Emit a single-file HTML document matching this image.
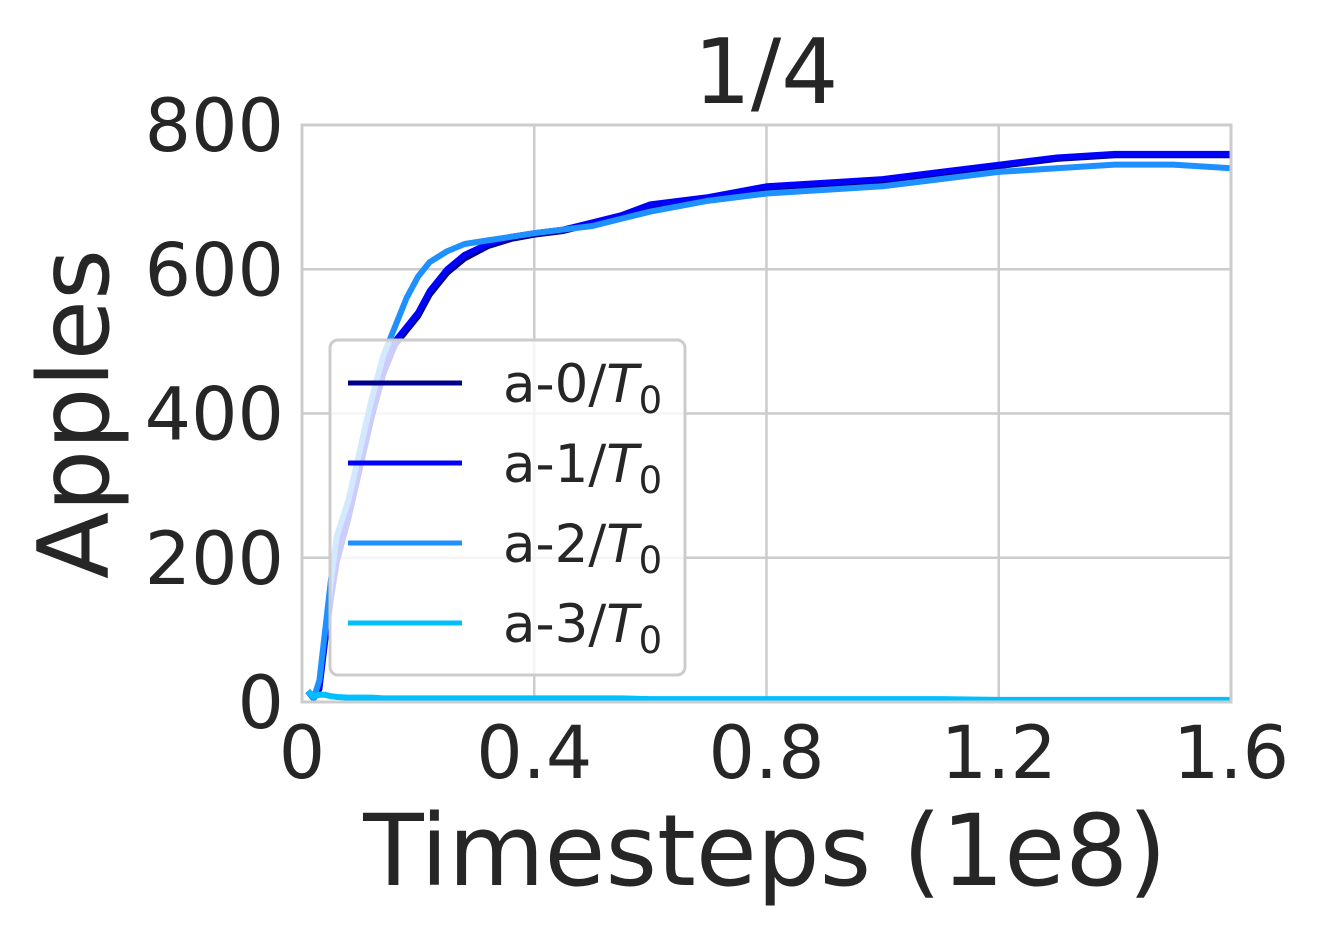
<!DOCTYPE html>
<html><head><meta charset="utf-8"><style>
body{margin:0;background:#fff;}
svg{display:block;font-family:"DejaVu Sans","Liberation Sans",sans-serif;}
</style></head><body>
<svg id="chart" width="1321" height="934" viewBox="0 0 1321 934">
<rect x="0" y="0" width="1321" height="934" fill="#fff"/>
<text x="766" y="103" font-size="90" text-anchor="middle" fill="#262626">1/4</text>
<g id="grid"></g>
<g id="series"></g>
<rect x="302" y="125" width="929" height="577" fill="none" stroke="#cccccc" stroke-width="3"/>
<g id="ticks"></g>
<text x="765" y="885" font-size="99" text-anchor="middle" fill="#262626">Timesteps (1e8)</text>
<text transform="translate(108,414) rotate(-90)" font-size="98" text-anchor="middle" fill="#262626">Apples</text>
<g id="legend">
<rect x="330" y="340" width="355" height="335" rx="8" fill="#fff" fill-opacity="0.8" stroke="#cccccc" stroke-width="3"/>
</g>
</svg>
<script>
const xs=[0.01,0.02,0.03,0.04,0.05,0.06,0.08,0.10,0.12,0.14,0.16,0.18,0.20,0.22,0.25,0.28,0.32,0.36,0.40,0.45,0.5,0.55,0.6,0.7,0.8,0.9,1.0,1.1,1.2,1.3,1.4,1.5,1.6];
const a0=[15,5,18,85,145,195,255,325,395,455,495,515,535,565,595,615,632,642,648,653,663,673,688,698,713,718,722,733,743,753,758,758,758];
const a1=[15,5,20,90,150,200,260,330,400,460,500,520,540,570,600,620,635,645,650,655,665,675,690,700,715,720,725,735,745,755,760,760,760];
const a2=[15,5,30,100,170,230,280,350,420,480,520,560,590,610,625,635,640,645,650,655,660,670,680,695,705,710,715,725,735,740,745,745,740];
const a3=[15,8,10,10,8,7,6,6,6,5,5,5,5,5,5,5,5,5,5,5,5,5,4,4,4,4,4,4,3,3,3,3,3];
const xTicks=[0,0.4,0.8,1.2,1.6];
const xTickLabels=["0","0.4","0.8","1.2","1.6"];
const yTicks=[0,200,400,600,800];
const seriesNames=["a-0","a-1","a-2","a-3"];
const colors=["#00008b","#0000ff","#1e90ff","#00bfff"];
const X=v=>302+v/1.6*929, Y=v=>702-v/800*577;
const NS="http://www.w3.org/2000/svg";
const mk=(t,a,p)=>{const e=document.createElementNS(NS,t);for(const k in a)e.setAttribute(k,a[k]);p.appendChild(e);return e;};
const grid=document.getElementById('grid'),ticks=document.getElementById('ticks');
xTicks.forEach((v,i)=>{
 const l=mk('line',{x1:X(v),x2:X(v),y1:125,y2:702,stroke:'#cccccc','stroke-width':2.5},grid);
 
 
 const t=mk('text',{x:X(v),y:778,'font-size':73,'text-anchor':'middle',fill:'#262626'},ticks);
 t.textContent=xTickLabels[i];
 
 
});
yTicks.forEach(v=>{
 const l=mk('line',{x1:302,x2:1231,y1:Y(v),y2:Y(v),stroke:'#cccccc','stroke-width':2.5},grid);
 
 
 const t=mk('text',{x:284,y:Y(v)+26,'font-size':73,'text-anchor':'end',fill:'#262626'},ticks);
 t.textContent=v;
 
 
});
const sg=document.getElementById('series');
[a0,a1,a2,a3].forEach((d,i)=>{
 const p=mk('polyline',{points:d.map((v,j)=>X(xs[j])+','+Y(v)).join(' '),fill:'none',stroke:colors[i],'stroke-width':6,'stroke-linejoin':'round'},sg);
 
 
});
const lg=document.getElementById('legend');
seriesNames.forEach((n,i)=>{
 const y=383+i*80;
 const l=mk('line',{x1:348,x2:462,y1:y,y2:y,stroke:colors[i],'stroke-width':5},lg);
 
 
 const t=mk('text',{x:503,y:y+19,'font-size':53,fill:'#262626'},lg);
 t.innerHTML=n+'/<tspan font-style="italic">T</tspan><tspan font-size="37" dy="11">0</tspan>';
 
 
});
</script>
</body></html>
